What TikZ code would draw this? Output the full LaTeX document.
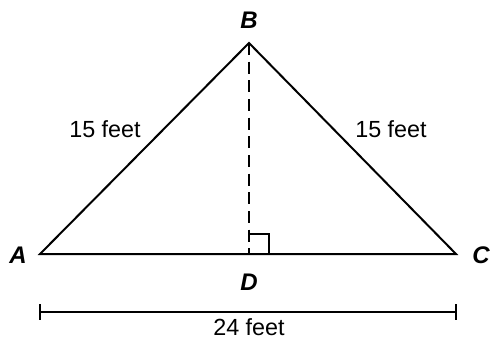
\documentclass[tikz,border=0pt]{standalone}
\usepackage{fontspec}
\setmainfont{Liberation Sans}
\usepackage{tikz}
\usetikzlibrary{positioning,calc}

\begin{document}
\begin{tikzpicture}[x=0.75pt,y=-0.75pt,font=\fontsize{17.5}{19}\selectfont,
  vlab/.style={font=\fontsize{18}{19}\selectfont\bfseries\itshape},
  edge/.style={line width=1.5pt},
]
\useasboundingbox (0,0) rectangle (491,343);

% vertices
\coordinate (A) at (40,254);
\coordinate (C) at (456,254);
\coordinate (B) at (249,43);
\coordinate (D) at (249,254);

\draw[edge,line join=miter] (A) -- (B) -- (C) -- cycle;
\draw[edge,dash pattern=on 9pt off 5pt] (B) -- (D);
\draw[line width=1.3pt] ($(D)+(0,-20)$) -- ++(20,0) -- ++(0,20);

\node[vlab] (lA) at (18,255) {A};
\node[vlab] (lB) at (249,20) {B};
\node[vlab] (lC) at (481,255) {C};
\node[vlab] (lD) at (249,282) {D};

\node (sAB) at (105,129) {15 feet};
\node (sBC) at (391,129) {15 feet};

% dimension
\coordinate (d1) at (40,312);
\coordinate (d2) at (456,312);
\draw[line width=1.3pt] (d1) -- (d2);
\draw[line width=1.5pt] ($(d1)+(0,-8)$) -- ($(d1)+(0,8)$);
\draw[line width=1.5pt] ($(d2)+(0,-8)$) -- ($(d2)+(0,8)$);
\node (sAC) at (249,327) {24 feet};
\end{tikzpicture}
\end{document}
